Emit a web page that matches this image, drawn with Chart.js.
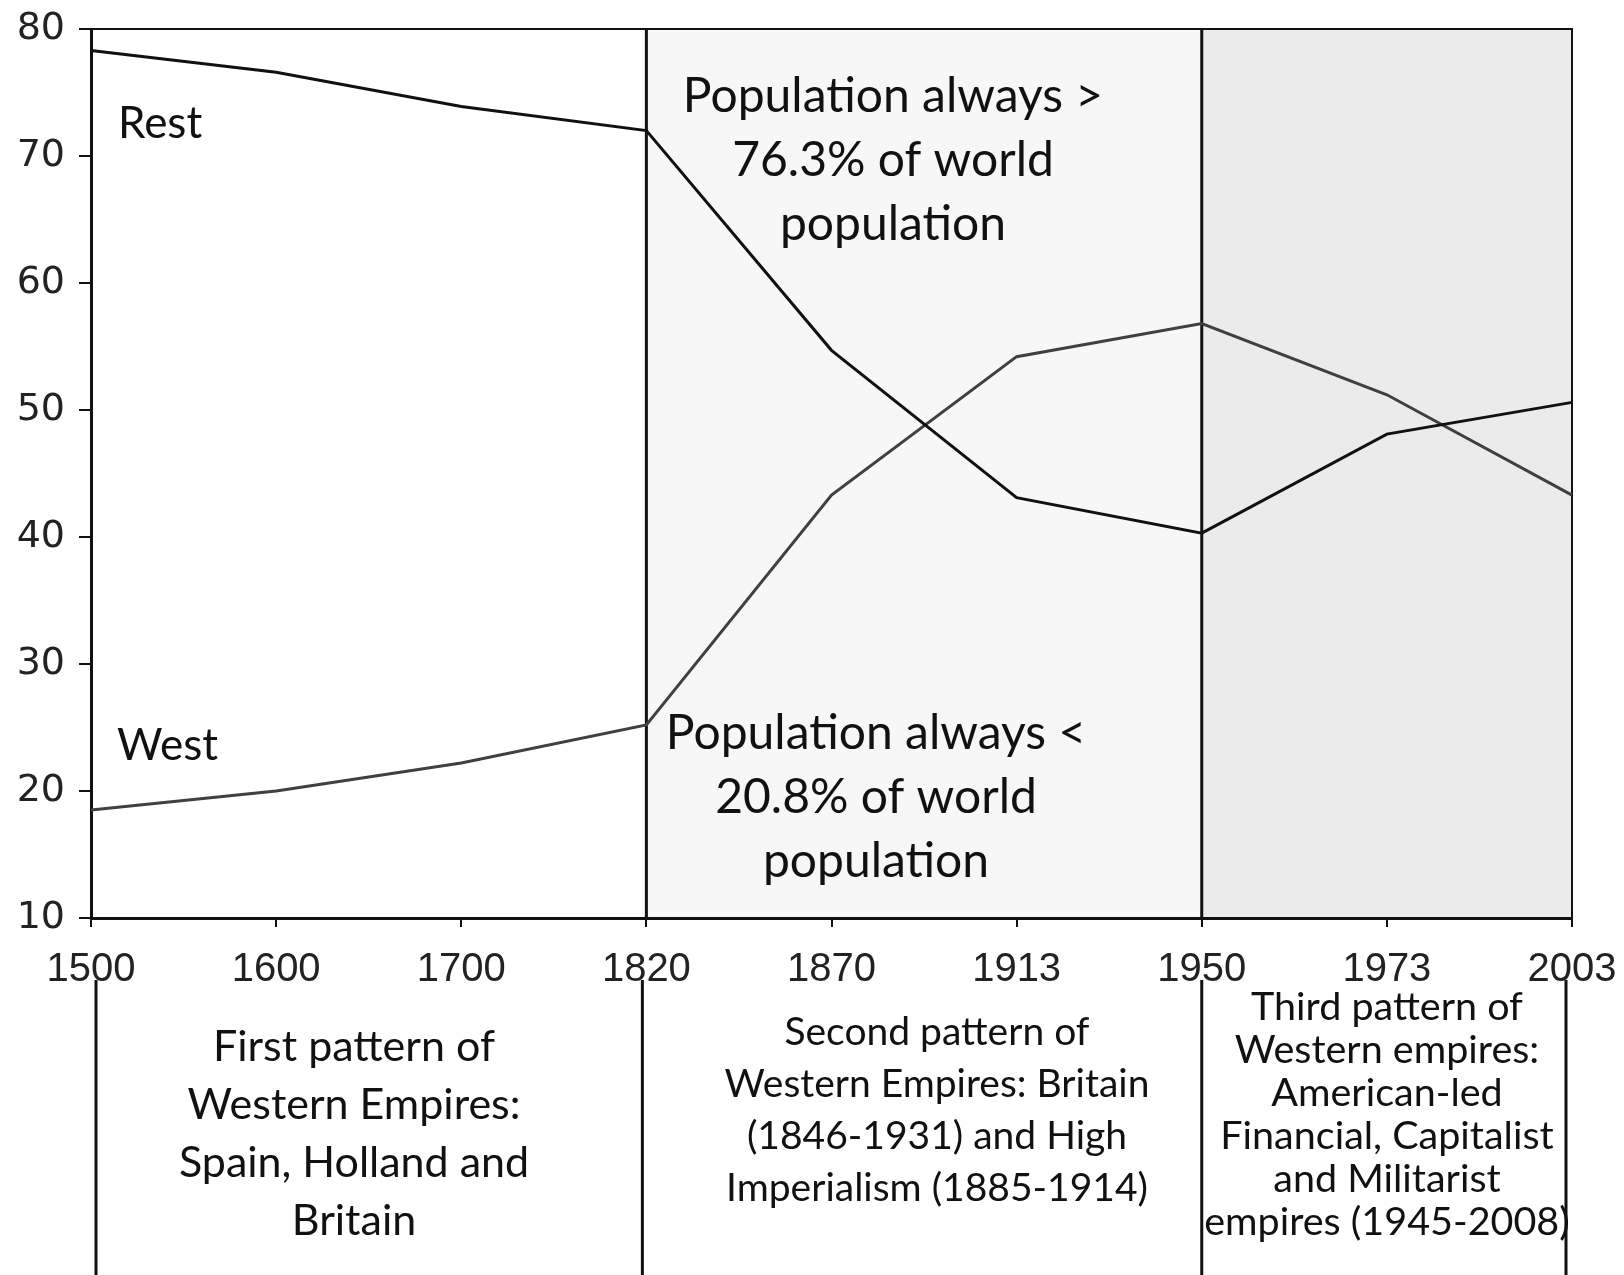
<!DOCTYPE html>
<html>
<head>
<meta charset="utf-8">
<script src="https://cdn.jsdelivr.net/npm/chart.js@4.4.1/dist/chart.umd.min.js"></script>
<style>
  html, body { margin: 0; padding: 0; background: #fff; }
</style>
</head>
<body>
<canvas id="shareChart" width="1624" height="1275"></canvas>
<script>
// categories (benchmark years, evenly spaced like the original)
const years = ["1500", "1600", "1700", "1820", "1870", "1913", "1950", "1973", "2003"];
// share of world GDP, %
const restShare = [78.3, 76.6, 73.9, 72.0, 54.7, 43.1, 40.3, 48.1, 50.6];
const westShare = [18.5, 20.0, 22.2, 25.2, 43.3, 54.2, 56.8, 51.2, 43.3];
const yMin = 10;
const yMax = 80;
const yStep = 10;

// period boundaries (index into years) and their shading
const periodEdges = ["1500", "1820", "1950", "2003"];
const periodFills = ["#ffffff", "#f7f7f7", "#ebebeb"];

const noteAbove = ["Population always >", "76.3% of world", "population"];
const noteBelow = ["Population always <", "20.8% of world", "population"];
const firstPattern = ["First pattern of", "Western Empires:", "Spain, Holland and", "Britain"];
const secondPattern = ["Second pattern of", "Western Empires: Britain", "(1846-1931) and High", "Imperialism (1885-1914)"];
const thirdPattern = ["Third pattern of", "Western empires:", "American-led", "Financial, Capitalist", "and Militarist", "empires (1945-2008)"];

const textFont = 'Lato, "Open Sans", sans-serif';

function drawLines(ctx, lines, cx, firstY, gap, size) {
  ctx.font = size + "px " + textFont;
  ctx.textAlign = "center";
  ctx.textBaseline = "middle";
  ctx.fillStyle = "#111";
  lines.forEach((line, i) => ctx.fillText(line, cx, firstY + i * gap));
}

// shading, period separators, frame and the text blocks
const periodPlugin = {
  id: "periods",
  beforeDraw(chart) {
    const { ctx, chartArea, scales } = chart;
    ctx.save();
    for (let i = 0; i < periodFills.length; i++) {
      const x0 = scales.x.getPixelForValue(years.indexOf(periodEdges[i]));
      const x1 = scales.x.getPixelForValue(years.indexOf(periodEdges[i + 1]));
      ctx.fillStyle = periodFills[i];
      ctx.fillRect(x0, chartArea.top, x1 - x0, chartArea.bottom - chartArea.top);
    }
    ctx.restore();
  },
  beforeDatasetsDraw(chart) {
    const { ctx, chartArea, scales } = chart;
    ctx.save();
    ctx.strokeStyle = "#111";
    ctx.lineWidth = 3;
    // separators inside the plot
    ["1820", "1950"].forEach((yr) => {
      const x = scales.x.getPixelForValue(years.indexOf(yr));
      ctx.beginPath();
      ctx.moveTo(x, chartArea.top);
      ctx.lineTo(x, chartArea.bottom);
      ctx.stroke();
    });
    // frame top + right
    ctx.lineWidth = 2;
    ctx.beginPath();
    ctx.moveTo(chartArea.left, chartArea.top);
    ctx.lineTo(chartArea.right, chartArea.top);
    ctx.lineTo(chartArea.right, chartArea.bottom);
    ctx.stroke();
    ctx.restore();
  },
  afterDraw(chart) {
    const { ctx, scales } = chart;
    ctx.save();
    // boxes under the axis
    const nudges = [5, -4, 0, -6];
    ctx.strokeStyle = "#111";
    ctx.lineWidth = 3;
    periodEdges.forEach((yr, i) => {
      const x = scales.x.getPixelForValue(years.indexOf(yr)) + nudges[i];
      ctx.beginPath();
      ctx.moveTo(x, 980);
      ctx.lineTo(x, 1275);
      ctx.stroke();
    });

    // series labels
    ctx.font = "44px " + textFont;
    ctx.textAlign = "left";
    ctx.textBaseline = "middle";
    ctx.fillStyle = "#111";
    ctx.fillText("Rest", 118, 124);
    ctx.fillText("West", 117, 746);

    drawLines(ctx, noteAbove, 893, 97, 64, 48);
    drawLines(ctx, noteBelow, 876, 734, 64, 48);
    drawLines(ctx, firstPattern, 354, 1047, 58, 43);
    drawLines(ctx, secondPattern, 937, 1032, 52, 39);
    drawLines(ctx, thirdPattern, 1387, 1007, 43, 39.5);
    ctx.restore();
  },
};

const ctx = document.getElementById("shareChart").getContext("2d");
new Chart(ctx, {
  type: "line",
  data: {
    labels: years,
    datasets: [
      {
        label: "Rest",
        data: restShare,
        borderColor: "#111111",
        borderWidth: 3,
        pointRadius: 0,
        tension: 0,
      },
      {
        label: "West",
        data: westShare,
        borderColor: "#404040",
        borderWidth: 3,
        pointRadius: 0,
        tension: 0,
      },
    ],
  },
  options: {
    responsive: false,
    animation: false,
    events: [],
    layout: {
      padding: { top: 29, right: 52, bottom: 267, left: 0 },
    },
    plugins: {
      legend: { display: false },
      tooltip: { enabled: false },
      title: { display: false },
    },
    scales: {
      x: {
        type: "category",
        offset: false,
        grid: {
          drawOnChartArea: false,
          drawTicks: true,
          tickLength: 9,
          color: "#111",
          lineWidth: 2,
        },
        border: { color: "#111", width: 3 },
        ticks: {
          color: "#222",
          padding: 19,
          autoSkip: false,
          maxRotation: 0,
          font: { family: '"Liberation Sans", Arial, sans-serif', size: 40 },
        },
        afterFit: (scale) => {
          scale.height = 90;
          // label overhang is already covered by layout padding
          scale.paddingLeft = 0;
          scale.paddingRight = 0;
        },
      },
      y: {
        min: yMin,
        max: yMax,
        grid: {
          drawOnChartArea: false,
          drawTicks: true,
          tickLength: 12,
          color: "#111",
          lineWidth: 2,
        },
        border: { color: "#111", width: 3 },
        ticks: {
          stepSize: yStep,
          color: "#222",
          padding: 14,
          font: { family: '"DejaVu Sans", sans-serif', size: 38 },
        },
        afterFit: (scale) => {
          scale.width = 91;
          scale.paddingTop = 0;
          scale.paddingBottom = 0;
        },
      },
    },
  },
  plugins: [periodPlugin],
});
</script>
</body>
</html>
